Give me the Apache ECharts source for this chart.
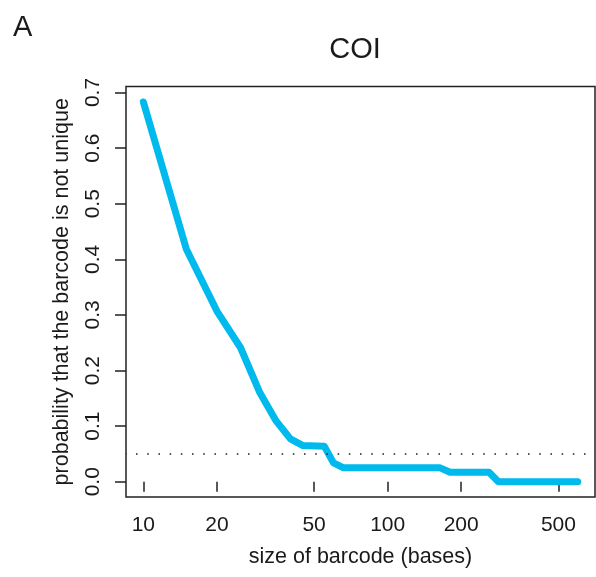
<!DOCTYPE html>
<html>
<head>
<meta charset="utf-8">
<script src="https://cdn.jsdelivr.net/npm/echarts@6/dist/echarts.min.js"></script>
<style>html,body{margin:0;padding:0;background:#fff}#c{width:596px;height:577px}</style>
</head>
<body>
<div id="c"></div>
<script>
const panelLabel = 'A';
const chartTitle = 'COI';
const xTitle = 'size of barcode (bases)';
const yTitle = 'probability that the barcode is not unique';
const barcodeSizes = [10, 15, 20, 25, 30, 35, 40, 45, 55, 60, 66, 164, 180, 260, 284, 600];
const probNotUnique = [0.683, 0.418, 0.307, 0.241, 0.160, 0.109, 0.077, 0.065, 0.064, 0.034, 0.025, 0.025, 0.017, 0.017, 0, 0];
const xTicks = [10, 20, 50, 100, 200, 500];
const yTicks = [0, 0.1, 0.2, 0.3, 0.4, 0.5, 0.6, 0.7];
const threshold = 0.05;

const FONT = 'Liberation Sans, Arial, Helvetica, sans-serif';
const INK = '#1a1a1a';
const chart = echarts.init(document.getElementById('c'), null, {renderer: 'canvas'});
chart.setOption({
  animation: false,
  backgroundColor: '#fff',
  title: [
    {text: panelLabel, left: 8, top: 8, textStyle: {fontFamily: FONT, fontSize: 29, fontWeight: 'normal', color: INK}},
    {text: chartTitle, left: 350, top: 30, textAlign: 'center', textStyle: {fontFamily: FONT, fontSize: 29, fontWeight: 'normal', color: INK}}
  ],
  grid: {left: 126, right: 1, top: 86.5, bottom: 80, show: true, containLabel: false, outerBoundsMode: 'none',
         borderColor: '#222', borderWidth: 1.5, backgroundColor: 'transparent'},
  xAxis: {
    type: 'log', logBase: 10, min: 8.49, max: 706,
    name: xTitle, nameLocation: 'middle', nameGap: 49,
    nameTextStyle: {fontFamily: FONT, fontSize: 21.5, color: INK},
    axisLine: {show: false},
    axisTick: {show: true, length: 10, inside: false, customValues: xTicks, lineStyle: {color: '#222', width: 1.5}},
    axisLabel: {customValues: xTicks, margin: 18, fontFamily: FONT, fontSize: 21, color: INK, formatter: v => String(Math.round(v))},
    splitLine: {show: false}
  },
  yAxis: {
    type: 'value', min: -0.0274, max: 0.7108,
    name: yTitle, nameLocation: 'middle', nameGap: 53,
    nameTextStyle: {fontFamily: FONT, fontSize: 21.5, color: INK},
    axisLine: {show: false},
    axisTick: {show: true, length: 11, customValues: yTicks, lineStyle: {color: '#222', width: 1.5}},
    axisLabel: {customValues: yTicks, rotate: 90, margin: 22, fontFamily: FONT, fontSize: 21, color: INK, formatter: v => v.toFixed(1)},
    splitLine: {show: false}
  },
  series: [{
    type: 'line',
    data: barcodeSizes.map((s, i) => [s, probNotUnique[i]]),
    showSymbol: false,
    lineStyle: {color: '#00BAED', width: 7, cap: 'round', join: 'round'},
    markLine: {
      silent: true, symbol: 'none', label: {show: false},
      lineStyle: {color: '#222', width: 1.6, type: [1.6, 9.6], cap: 'butt', dashOffset: -10},
      data: [{yAxis: threshold}]
    }
  }]
});
</script>
</body>
</html>
